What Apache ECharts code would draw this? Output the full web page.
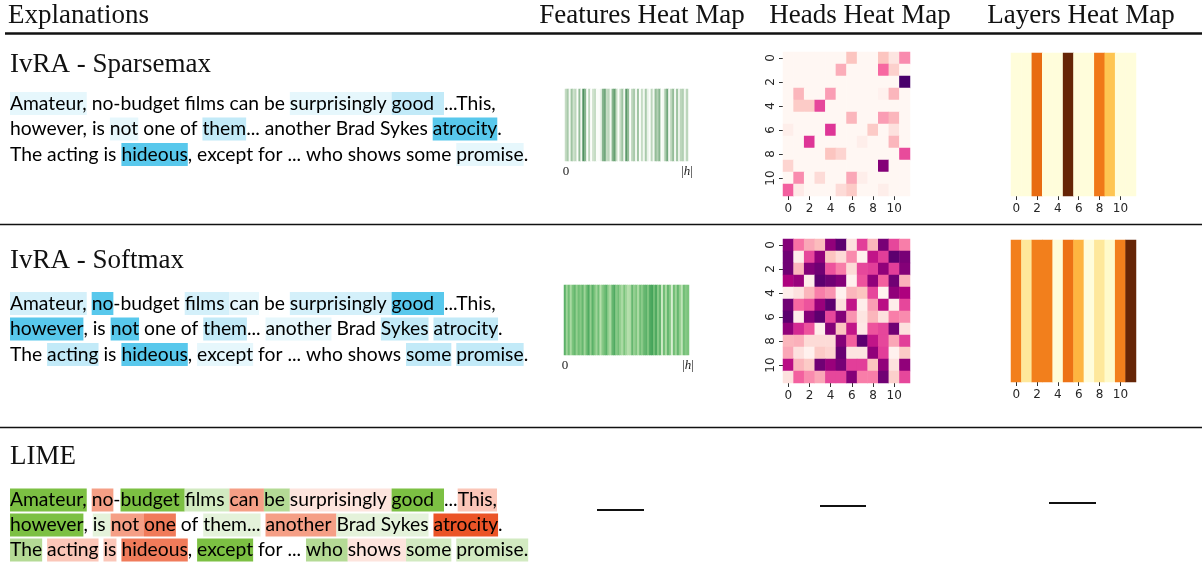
<!DOCTYPE html>
<html><head><meta charset="utf-8">
<script src="https://cdn.jsdelivr.net/npm/echarts@6/dist/echarts.min.js"></script>
<style>html,body{margin:0;padding:0;background:#fff}#c{width:1202px;height:563px}</style>
</head><body><div id="c"></div>
<script>
// ---------- data ----------
const headers = ['Explanations', 'Features Heat Map', 'Heads Heat Map', 'Layers Heat Map'];
const sectionTitles = ['IvRA - Sparsemax', 'IvRA - Softmax', 'LIME'];
const indexTicks = ['0','1','2','3','4','5','6','7','8','9','10','11'];
const featTickFirst = '0';
const featTickLast = '|{i|h}|';

const featSparse = [0.3,0.45,0.05,0.5,0.25,0.35,0,0.55,0.05,0.85,0.6,0,0.35,0,0.25,0.3,0,0,0.1,0.6,0.7,0.3,0.35,0.05,0.6,0.75,0.3,0,0.3,0.5,0.05,0.8,0.55,0,0.35,0.45,0.05,0.5,0,0.3,0.05,0.45,0.1,0,0.35,0.05,0.55,0.4,0.6,0,0.05,0.45,0.7,0.05,0.35,0.55,0.05,0.5,0.1,0.35,0.4,0.05,0.35];
const featSoft = [0.65,0.35,0.55,0.3,0.5,0.6,0.4,0.55,0.45,0.6,0.35,0.55,0.7,0.4,0.65,0.5,0.35,0.55,0.25,0.45,0.55,0.65,0.4,0.3,0.6,0.7,0.45,0.55,0.4,0.3,0.5,0.35,0.25,0.3,0.6,0.4,0.5,0.3,0.55,0.45,0.6,0.65,0.5,0.7,0.75,0.55,0.7,0.45,0.6,0.15,0.55,0.3,0.6,0.45,0.1,0.55,0.35,0.6,0.4,0.2,0.55,0.45,0.5];

const headsSparse = [
  [0,0,0,0,0,0,0.25,0,0,0.25,0.1,0.42],
  [0,0,0,0,0,0.33,0,0,0,0.5,0.2,0],
  [0,0,0,0,0,0,0,0,0,0,0,1.0],
  [0,0.3,0,0,0.38,0,0,0,0,0.03,0.3,0],
  [0,0.22,0.22,0.58,0,0,0,0,0,0,0,0],
  [0,0,0,0,0,0,0.3,0,0,0.38,0.3,0],
  [0.05,0,0,0,0.62,0,0,0,0.22,0,0.12,0],
  [0,0,0.62,0,0,0,0,0.05,0,0,0.3,0],
  [0,0,0,0,0.25,0.18,0,0,0,0,0,0.57],
  [0.18,0,0,0,0,0,0,0,0,0.85,0,0],
  [0,0.42,0,0.15,0,0,0.35,0.05,0,0,0,0],
  [0.52,0.07,0,0,0,0.15,0.22,0,0,0.05,0,0]
];
const headsSoft = [
  [0.85,0.48,0.35,0.28,0.82,0.95,0.12,0.6,0.3,0.88,0.58,0.45],
  [0.9,0.05,0.58,0.82,0.25,0.15,0.42,0.03,0.7,0.6,0.95,0.88],
  [0.9,0.3,0.85,0.9,0.55,0.45,0.15,0.58,0.6,0.82,0.6,0.85],
  [0.75,0.8,0.05,0.95,0.9,0.85,0.03,0.55,0.82,0.52,0.9,0.32],
  [0.05,0.12,0.3,0.45,0.4,0.03,0.3,0.25,0.58,0.02,0.82,0.75],
  [0.9,0.5,0.55,0.8,0.95,0.12,0.7,0.05,0.38,0.72,0.05,0.58],
  [0.95,0.05,0.85,0.95,0.58,0.85,0.4,0.1,0.3,0.12,0.45,0.42],
  [0.82,0.65,0.55,0.05,0.85,0.25,0.7,0.08,0.55,0.58,0.9,0.12],
  [0.3,0.32,0.15,0.15,0.15,0.85,0.52,0.95,0.7,0.58,0.35,0.6],
  [0.35,0.12,0.03,0.22,0.18,0.92,0.1,0.1,0.82,0.6,0.03,0.22],
  [0.72,0.3,0.22,0.9,0.8,0.88,0.6,0.6,0.25,0.82,0.12,0.82],
  [0.12,0.52,0.42,0.35,0.58,0.58,0.85,0.45,0.45,0.9,0.2,0.58]
];
const layersSparse = [0.03,0.03,0.64,0.03,0.03,1.0,0.03,0.03,0.6,0.37,0.03,0.03];
const layersSoft = [0.58,0.22,0.58,0.58,0.04,0.62,0.42,0.03,0.22,0.08,0.58,1.0];

// explanation tokens: [text, weight level]
const sparseText = [
  [['Amateur,',1],[' no-budget films can be ',0],['surprisingly ',1],['good  ',3],['...This,',0]],
  [['however, is ',0],['not',1],[' one of ',0],['them',3],['... another Brad Sykes ',0],['atrocity',4],['.',0]],
  [['The acting is ',0],['hideous',4],[', except for ... who shows some ',0],['promise',1],['.',0]]
];
const softText = [
  [['Amateur,',2],[' ',0],['no',4],['-budget ',0],['films ',2],['can',1],[' be ',0],['surprisingly ',2],['good  ',4],['...This,',0]],
  [['however',4],[', is ',0],['not',4],[' one of ',0],['them',3],['... ',0],['another',1],[' Brad ',0],['Sykes',3],[' ',0],['atrocity',3],['.',0]],
  [['The ',0],['acting',3],[' is ',0],['hideous',4],[', ',0],['except',1],[' for ... who shows ',0],['some',3],[' ',0],['promise',3],['.',0]]
];
const limeText = [
  [['Amateur,',4],[' ',0],['no',-3],['-',0],['budget ',4],['films ',2],['can ',-3],['be ',3],['surprisingly ',-1],['good  ',4],['...',0],['This,',-2]],
  [['however',4],[', ',0],['is ',1],['not ',-3],['one',-4],[' of ',0],['them...',1],[' ',0],['another ',-3],['Brad Sykes',1],[' ',0],['atrocity',-5],['.',0]],
  [['The',3],[' ',0],['acting',-2],[' ',0],['is',-2],[' ',0],['hideous',-4],[', ',0],['except',4],[' for ... ',0],['who ',3],['shows ',-1],['some',2],[' ',0],['promise.',2]]
];

// ---------- styles ----------
const blue = {1:'#e6f7fc', 2:'#d4f0fa', 3:'#c2eaf8', 4:'#58c8ec'};
const green = {1:'#e4f2da', 2:'#d2eac1', 3:'#b4da95', 4:'#7cc043'};
const red = {1:'#fde4dd', 2:'#fbc6b8', 3:'#f59f86', 4:'#f07b5a', 5:'#eb5427'};
const bodyFont = 'Lato';
const bodySize = 19.3;
const serifFont = "'Liberation Serif', serif";

function richStyles() {
  const r = {p:{fontFamily:bodyFont,fontSize:bodySize,color:'#111',height:23,lineHeight:23}};
  const add = (name, col) => { r[name] = {fontFamily:bodyFont,fontSize:bodySize,color:'#111',backgroundColor:col,height:23,lineHeight:23}; };
  Object.keys(blue).forEach(k => add('b'+k, blue[k]));
  Object.keys(green).forEach(k => add('g'+k, green[k]));
  Object.keys(red).forEach(k => add('r'+k, red[k]));
  return r;
}
const RICH = richStyles();
function lineString(tokens, signed) {
  return tokens.map(([t, w]) => {
    let s = 'p';
    if (w !== 0) s = signed ? (w > 0 ? 'g'+w : 'r'+(-w)) : 'b'+w;
    return '{' + s + '|' + t + '}';
  }).join('');
}
function textBlock(lines, centers, signed) {
  return lines.map((ln, i) => ({
    type:'text', x:10, y:centers[i], silent:true,
    style:{text: lineString(ln, signed), rich: RICH, verticalAlign:'middle', align:'left', fontFamily:bodyFont, fontSize:bodySize}
  }));
}

const graphics = [];
// headers
const headerX = [8, 642, 860, 1081];
const headerAlign = ['left','center','center','center'];
headers.forEach((h,i) => graphics.push({type:'text', x:headerX[i], y:16, silent:true,
  style:{text:h, fontFamily:serifFont, fontSize:27, fill:'#111', align:headerAlign[i], verticalAlign:'middle'}}));
// section titles
[65, 261, 457].forEach((y,i) => graphics.push({type:'text', x:10, y:y, silent:true,
  style:{text:sectionTitles[i], fontFamily:serifFont, fontSize:27, fill:'#111', align:'left', verticalAlign:'middle'}}));
// rules
graphics.push({type:'line', silent:true, shape:{x1:5,y1:33.5,x2:1202,y2:33.5}, style:{stroke:'#111', lineWidth:2.5}});
graphics.push({type:'line', silent:true, shape:{x1:0,y1:224.5,x2:1202,y2:224.5}, style:{stroke:'#111', lineWidth:1.5}});
graphics.push({type:'line', silent:true, shape:{x1:0,y1:427.5,x2:1202,y2:427.5}, style:{stroke:'#111', lineWidth:1.5}});
// LIME n/a dashes
graphics.push({type:'line', silent:true, shape:{x1:597,y1:510,x2:644,y2:510}, style:{stroke:'#111', lineWidth:2}});
graphics.push({type:'line', silent:true, shape:{x1:820,y1:506,x2:866,y2:506}, style:{stroke:'#111', lineWidth:2}});
graphics.push({type:'line', silent:true, shape:{x1:1049,y1:503,x2:1096,y2:503}, style:{stroke:'#111', lineWidth:2}});
// text explanations
graphics.push(...textBlock(sparseText, [103.5,129,154.5], false));
graphics.push(...textBlock(softText, [303.5,329,354.5], false));
graphics.push(...textBlock(limeText, [500,525,550], true));

// ---------- axes/grids ----------
const grids = [
  {left:565, top:89, width:123, height:72},
  {left:783, top:52, width:127, height:144},
  {left:1011, top:53, width:125, height:143},
  {left:564, top:285, width:125, height:70},
  {left:783, top:239, width:127, height:144},
  {left:1011, top:240, width:125, height:142}
];
const featCats = featSparse.map((_, i) => String(i));
const featCats2 = featSoft.map((_, i) => String(i));
const tickLabel = {fontFamily:"'DejaVu Sans', sans-serif", fontSize:12, color:'#262626'};
function featX(gi, cats) {
  const last = cats.length - 1;
  return {type:'category', gridIndex:gi, data:cats, axisLine:{show:false}, axisTick:{show:false}, splitLine:{show:false},
    axisLabel:{interval:(idx) => idx === 0 || idx === last, margin:4, fontFamily:serifFont, fontSize:13, color:'#222',
      formatter:(v, idx) => idx === 0 ? featTickFirst : featTickLast,
      rich:{i:{fontStyle:'italic', fontFamily:serifFont, fontSize:13, color:'#222'}}}};
}
function idxX(gi) {
  return {type:'category', gridIndex:gi, data:indexTicks, axisLine:{show:false}, splitLine:{show:false},
    axisTick:{show:true, interval:1, alignWithLabel:true, length:4, lineStyle:{color:'#333', width:1}},
    axisLabel:Object.assign({interval:1, margin:7}, tickLabel)};
}
function idxY(gi) {
  return {type:'category', gridIndex:gi, data:indexTicks, inverse:true, axisLine:{show:false}, splitLine:{show:false},
    axisTick:{show:true, interval:1, alignWithLabel:true, length:4, lineStyle:{color:'#333', width:1}},
    axisLabel:Object.assign({interval:1, margin:6, rotate:90}, tickLabel)};
}
function hiddenY(gi) {
  return {type:'category', gridIndex:gi, data:[''], show:false};
}

function rowData(arr) { return arr.map((v, i) => [i, 0, v]); }
function matData(m) { const d = []; m.forEach((row, r) => row.forEach((v, c) => d.push([c, r, v]))); return d; }

const hm = (gi, data) => ({type:'heatmap', xAxisIndex:gi, yAxisIndex:gi, data:data, silent:true,
  itemStyle:{borderWidth:0}, emphasis:{disabled:true}, progressive:0});

const option = {
  animation:false,
  backgroundColor:'#ffffff',
  grid:grids,
  xAxis:[featX(0, featCats), idxX(1), idxX(2), featX(3, featCats2), idxX(4), idxX(5)],
  yAxis:[hiddenY(0), idxY(1), hiddenY(2), hiddenY(3), idxY(4), hiddenY(5)],
  visualMap:[
    {type:'continuous', show:false, seriesIndex:[0], min:0, max:1, dimension:2,
      inRange:{color:['#fbfdfa','#cfe2cd','#9fc4a2','#66a072','#2f7a47']}},
    {type:'continuous', show:false, seriesIndex:[3], min:0, max:1, dimension:2,
      inRange:{color:['#eef8ea','#b5dfab','#7cc47d','#45a45a','#257f3e']}},
    {type:'continuous', show:false, seriesIndex:[1,4], min:0, max:1, dimension:2,
      inRange:{color:['#fff7f3','#fde0dd','#fcc5c0','#fa9fb5','#f768a1','#dd3497','#ae017e','#7a0177','#49006a']}},
    {type:'continuous', show:false, seriesIndex:[2,5], min:0, max:1, dimension:2,
      inRange:{color:['#ffffe5','#fff7bc','#fee391','#fec44f','#fe9929','#ec7014','#cc4c02','#993404','#662506']}}
  ],
  series:[
    hm(0, rowData(featSparse)),
    hm(1, matData(headsSparse)),
    hm(2, rowData(layersSparse)),
    hm(3, rowData(featSoft)),
    hm(4, matData(headsSoft)),
    hm(5, rowData(layersSoft))
  ],
  graphic:graphics
};
const chart = echarts.init(document.getElementById('c'), null, {renderer:'canvas'});
chart.setOption(option);
</script>
</body></html>
